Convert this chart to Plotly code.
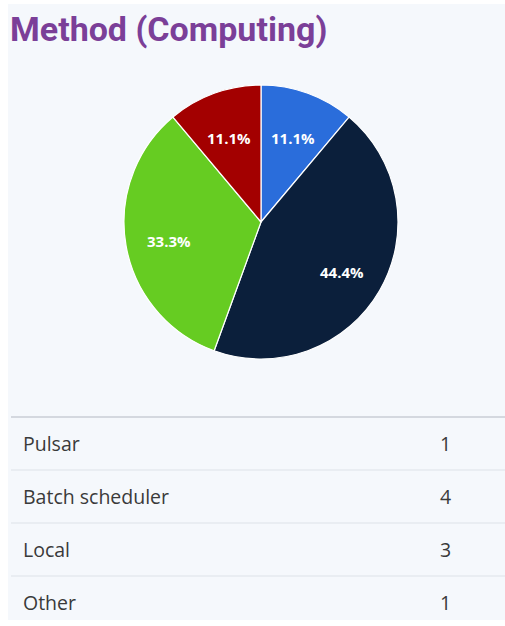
import math
import plotly.graph_objects as go

title_text = "Method (Computing)"
categories = ["Pulsar", "Batch scheduler", "Local", "Other"]
counts = [1, 4, 3, 1]
colors = ["#2a6ddb", "#0b1f3b", "#66cc22", "#a30000"]

W, H = 505, 626

def px(x):
    return x / W

def py(y):
    return 1 - y / H

# pie geometry (pixels)
CX, CY, R = 261, 222, 137
LABEL_R = 93
LABEL_DY = 3

fig = go.Figure()
fig.add_trace(go.Pie(
    labels=categories,
    values=counts,
    sort=False,
    direction="clockwise",
    rotation=0,
    marker=dict(colors=colors, line=dict(color="#ffffff", width=1.2)),
    textinfo="none",
    domain=dict(x=[px(CX - R), px(CX + R)], y=[py(CY + R), py(CY - R)]),
    showlegend=False,
    hoverinfo="label+value+percent",
))

shapes = [
    dict(type="rect", xref="paper", yref="paper", x0=px(8), x1=1, y0=py(620), y1=py(4),
         fillcolor="#f5f8fc", line=dict(width=0), layer="below"),
]
annotations = [
    dict(text="<b>" + title_text + "</b>", x=px(8), y=py(29), xref="paper", yref="paper",
         xanchor="left", yanchor="middle", showarrow=False,
         font=dict(family="Roboto", size=34, color="#7b3f98")),
]

# percentage labels placed along each slice's mid-angle
total = sum(counts)
cum = 0
for val in counts:
    mid = (cum + val / 2) / total * 2 * math.pi
    cum += val
    lx = CX + LABEL_R * math.sin(mid)
    ly = CY - LABEL_R * math.cos(mid) + LABEL_DY
    annotations.append(dict(text="<b>%.1f%%</b>" % (val / total * 100), x=px(lx), y=py(ly),
                            xref="paper", yref="paper", xanchor="center", yanchor="middle",
                            showarrow=False,
                            font=dict(family="Open Sans", size=15, color="#ffffff")))

row_top = 417
row_h = 53
shapes.append(dict(type="line", xref="paper", yref="paper", x0=px(11), x1=1,
                   y0=py(row_top), y1=py(row_top), line=dict(color="#c9ced6", width=1.3)))
for i, (cat, val) in enumerate(zip(categories, counts)):
    yc = row_top + row_h * i + 26
    annotations.append(dict(text=cat, x=px(21), y=py(yc), xref="paper", yref="paper",
                            xanchor="left", yanchor="middle", showarrow=False,
                            font=dict(family="Open Sans", size=19.5, color="#3a3a3a")))
    annotations.append(dict(text=str(val), x=px(445), y=py(yc), xref="paper", yref="paper",
                            xanchor="center", yanchor="middle", showarrow=False,
                            font=dict(family="Open Sans", size=19.5, color="#3a3a3a")))
    if i < len(categories) - 1:
        yl = row_top + row_h * (i + 1)
        shapes.append(dict(type="line", xref="paper", yref="paper", x0=px(11), x1=1,
                           y0=py(yl), y1=py(yl), line=dict(color="#dde2e8", width=1)))

fig.update_layout(
    width=W, height=H,
    margin=dict(l=0, r=0, t=0, b=0),
    paper_bgcolor="#ffffff",
    plot_bgcolor="#ffffff",
    shapes=shapes,
    annotations=annotations,
)

fig.write_html("out.html", config={"displayModeBar": False},
               post_script="document.body.style.margin='0';document.body.style.overflow='hidden';")
